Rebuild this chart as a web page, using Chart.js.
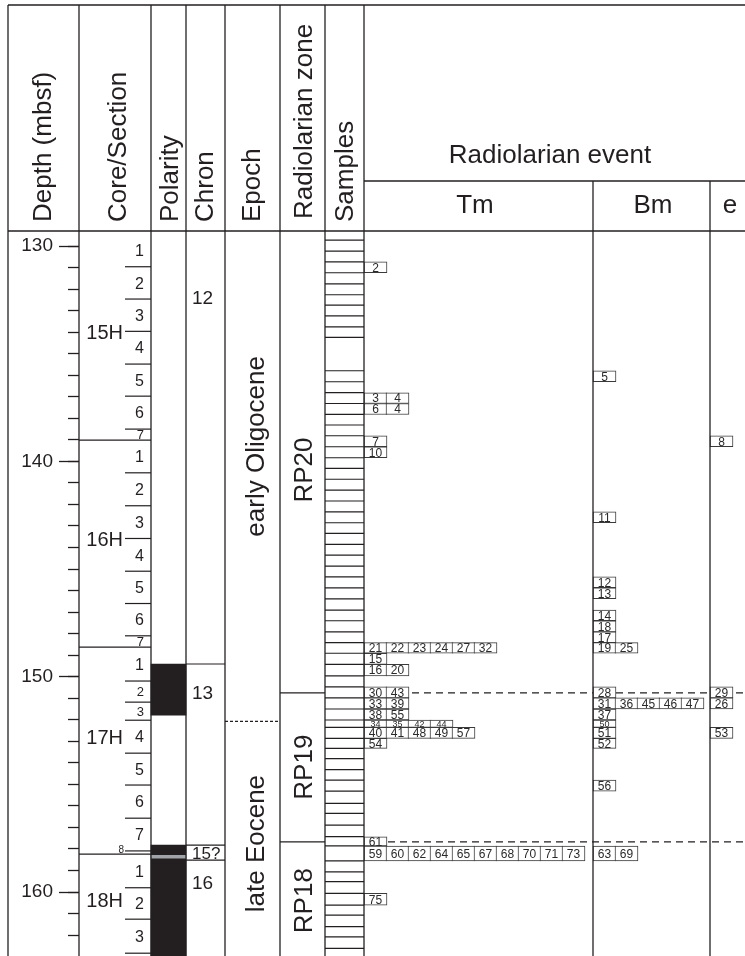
<!DOCTYPE html>
<html><head><meta charset="utf-8">
<script src="https://cdn.jsdelivr.net/npm/chart.js@4.4.0/dist/chart.umd.min.js"></script>
<style>html,body{margin:0;padding:0;background:#fff;overflow:hidden}canvas{display:block}</style>
</head><body>
<canvas id="c" width="745" height="956"></canvas>
<script>
// ---------------- data ----------------
const depthMajorTicks = [130, 140, 150, 160];
const depthMinorTicks = [130,131,132,133,134,135,136,137,138,139,140,141,142,143,144,145,146,147,148,149,150,151,152,153,154,155,156,157,158,159,160,161,162];

const coreNames = ['15H', '16H', '17H', '18H'];
const coreLabelDepths = [133.96, 143.58, 152.79, 160.35];
const sections15H = [129.46, 130.96, 132.46, 133.96, 135.48, 136.97, 138.50, 139.01];
const sections16H = [139.01, 140.53, 142.06, 143.58, 145.10, 146.60, 148.10, 148.63];
const sections17H = [148.63, 150.20, 151.18, 152.02, 153.55, 155.03, 156.57, 158.09, 158.24];
const sections18H = [158.24, 159.80, 161.26, 162.84, 164.30];

const normalPolarityTops  = [149.41, 157.82];
const normalPolarityBases = [151.78, 163.50];
const polarityGreyTops  = [158.30];
const polarityGreyBases = [158.43];

const chronNames = ['12', '13', '15?', '16'];
const chronBoundaries = [149.41, 157.82, 158.52];
const chronLabelDepths = [132.37, 150.71, 158.17, 159.54];

const epochNames = ['early Oligocene', 'late Eocene'];
const epochBoundaries = [152.07];
const epochLabelDepths = [139.3, 157.75];

const zoneNames = ['RP20', 'RP19', 'RP18'];
const zoneBoundaries = [150.75, 157.67];
const zoneLabelDepths = [140.4, 154.2, 160.4];

const sampleDepths = [129.72,130.23,130.73,131.24,131.76,132.26,132.74,133.24,133.75,134.24,
  135.79,136.30,136.81,137.31,137.82,138.31,138.81,139.32,139.83,140.32,140.83,141.33,141.84,
  142.34,142.85,143.34,143.85,144.35,144.86,145.36,145.87,146.38,146.91,147.40,147.92,148.42,
  148.91,149.43,149.96,150.47,150.98,151.50,152.01,152.35,152.86,153.33,153.80,154.31,154.80,
  155.31,155.88,156.35,156.89,157.43,157.86,158.55,159.06,159.52,160.06,160.61,161.07,161.61,
  162.08,162.62];

// radiolarian events: [top depth, base depth, event numbers]
const tmEvents = [
  [130.73, 131.24, ['2']],
  [136.81, 137.31, ['3','4']],
  [137.31, 137.82, ['6','4']],
  [138.81, 139.32, ['7']],
  [139.32, 139.83, ['10']],
  [148.42, 148.91, ['21','22','23','24','27','32']],
  [148.91, 149.43, ['15']],
  [149.43, 149.96, ['16','20']],
  [150.47, 150.98, ['30','43']],
  [150.98, 151.50, ['33','39']],
  [151.50, 152.01, ['38','55']],
  [152.01, 152.35, ['34','35','42','44']],
  [152.35, 152.86, ['40','41','48','49','57']],
  [152.86, 153.33, ['54']],
  [157.43, 157.86, ['61']],
  [157.86, 158.55, ['59','60','62','64','65','67','68','70','71','73']],
  [160.06, 160.61, ['75']]
];
const bmEvents = [
  [135.79, 136.30, ['5']],
  [142.34, 142.85, ['11']],
  [145.36, 145.87, ['12']],
  [145.87, 146.38, ['13']],
  [146.91, 147.40, ['14']],
  [147.40, 147.92, ['18']],
  [147.92, 148.42, ['17']],
  [148.42, 148.91, ['19','25']],
  [150.47, 150.98, ['28']],
  [150.98, 151.50, ['31','36','45','46','47']],
  [151.50, 152.01, ['37']],
  [152.01, 152.35, ['50']],
  [152.35, 152.86, ['51']],
  [152.86, 153.33, ['52']],
  [154.80, 155.31, ['56']],
  [157.86, 158.55, ['63','69']]
];
const eEvents = [
  [138.81, 139.32, ['8']],
  [150.47, 150.98, ['29']],
  [150.98, 151.50, ['26']],
  [152.35, 152.86, ['53']]
];
const eventBoundaryDepths = [150.75, 157.67];

// ---------------- layout / style ----------------
const FONT = '"Liberation Sans", Arial, Helvetica, sans-serif';
const INK = '#231f20';
const COL = { left: 8, depth: 79, core: 151, pol: 186, chron: 225, epoch: 280, zone: 325, samp: 364, tm: 593, bm: 710, e: 770 };
const HEADER_TOP = 5, HEADER_BOTTOM = 231, SUBHEAD = 181;
const BOX_W = 22;

const allSections = [sections15H, sections16H, sections17H, sections18H];
const sectionLines = [];
const coreLines = [];
allSections.forEach((s, ci) => {
  s.slice(1, -1).forEach(d => sectionLines.push(d));
  if (ci > 0) coreLines.push(s[0]);
});

function eventBars(rows, left) {
  const out = [];
  rows.forEach(([top, base, ids]) => ids.forEach((id, i) =>
    out.push({ x: left + BOX_W * i + (BOX_W + 1) / 2, y: [top, base], label: id })));
  return out;
}
function hLine(depths, x0, x1) {
  return depths.map(d => ({ x: (x0 + x1) / 2, y: d }));
}
function dashSegs(depths, x0, x1) {
  const out = [];
  depths.forEach(d => { out.push({ x: x0, y: d }, { x: x1, y: d }, { x: NaN, y: null }); });
  return out;
}

const datasets = [
  { type: 'scatter', data: hLine(sampleDepths, COL.zone, COL.samp), pointStyle: 'line',
    pointRadius: (COL.samp - COL.zone) / 2, pointHoverRadius: (COL.samp - COL.zone) / 2,
    borderColor: INK, borderWidth: 1.2, order: 5 },
  { type: 'scatter', data: hLine(sectionLines, 125, COL.core), pointStyle: 'line',
    pointRadius: 13, pointHoverRadius: 13, borderColor: INK, borderWidth: 1.2, order: 5 },
  { type: 'scatter', data: hLine(coreLines, COL.depth, COL.core), pointStyle: 'line',
    pointRadius: (COL.core - COL.depth) / 2, pointHoverRadius: (COL.core - COL.depth) / 2,
    borderColor: INK, borderWidth: 1.2, order: 5 },
  { type: 'scatter', data: hLine(chronBoundaries, COL.pol, COL.chron), pointStyle: 'line',
    pointRadius: (COL.chron - COL.pol) / 2, pointHoverRadius: (COL.chron - COL.pol) / 2,
    borderColor: INK, borderWidth: 1.2, order: 5 },
  { type: 'scatter', data: hLine(zoneBoundaries, COL.epoch, COL.zone), pointStyle: 'line',
    pointRadius: (COL.zone - COL.epoch) / 2, pointHoverRadius: (COL.zone - COL.epoch) / 2,
    borderColor: INK, borderWidth: 1.2, order: 5 },
  { type: 'line', data: dashSegs(epochBoundaries, COL.chron, COL.epoch), borderColor: INK,
    borderWidth: 1.2, borderDash: [3, 2], pointRadius: 0, spanGaps: false, order: 6 },
  { type: 'line', data: dashSegs(eventBoundaryDepths, COL.samp, COL.e), borderColor: INK,
    borderWidth: 1.2, borderDash: [7, 5], pointRadius: 0, spanGaps: false, order: 6 },
  { type: 'bar', data: normalPolarityTops.map((t, i) => ({ x: (COL.core + COL.pol) / 2, y: [t, normalPolarityBases[i]] })),
    backgroundColor: INK, borderWidth: 0, barThickness: COL.pol - COL.core, grouped: false, order: 4 },
  { type: 'bar', data: polarityGreyTops.map((t, i) => ({ x: (COL.core + COL.pol) / 2, y: [t, polarityGreyBases[i]] })),
    backgroundColor: '#a0a4a8', borderWidth: 0, barThickness: COL.pol - COL.core, grouped: false, order: 3 },
  { type: 'bar', eventBox: true, data: eventBars(tmEvents, COL.samp), backgroundColor: '#fff', borderColor: '#3a3a3a',
    borderWidth: 1, borderSkipped: false, barThickness: BOX_W + 1, grouped: false, order: 1 },
  { type: 'bar', eventBox: true, data: eventBars(bmEvents, COL.tm), backgroundColor: '#fff', borderColor: '#3a3a3a',
    borderWidth: 1, borderSkipped: false, barThickness: BOX_W + 1, grouped: false, order: 1 },
  { type: 'bar', eventBox: true, data: eventBars(eEvents, COL.bm), backgroundColor: '#fff', borderColor: '#3a3a3a',
    borderWidth: 1, borderSkipped: false, barThickness: BOX_W + 1, grouped: false, order: 1 }
];

const stratPlugin = {
  id: 'strat',
  beforeDraw(chart) {
    const { ctx } = chart;
    ctx.save(); ctx.fillStyle = '#fff'; ctx.fillRect(0, 0, chart.width, chart.height); ctx.restore();
  },
  afterDraw(chart) {
    const { ctx } = chart;
    const xs = chart.scales.x, ys = chart.scales.y;
    const px = v => xs.getPixelForValue(v);
    const py = d => ys.getPixelForValue(d);
    const H = chart.height;
    ctx.save();
    ctx.strokeStyle = INK; ctx.fillStyle = INK; ctx.lineWidth = 1.3;
    const line = (x0, y0, x1, y1) => { ctx.beginPath(); ctx.moveTo(x0, y0); ctx.lineTo(x1, y1); ctx.stroke(); };
    line(px(COL.left), HEADER_TOP, chart.width + 5, HEADER_TOP);
    line(px(COL.left), HEADER_BOTTOM, chart.width + 5, HEADER_BOTTOM);
    line(px(COL.samp), SUBHEAD, chart.width + 5, SUBHEAD);
    [COL.left, COL.depth, COL.core, COL.pol, COL.chron, COL.epoch, COL.zone, COL.samp].forEach(c => line(px(c), HEADER_TOP, px(c), H + 2));
    [COL.tm, COL.bm].forEach(c => line(px(c), SUBHEAD, px(c), H + 2));

    const text = (t, x, yMid, size, align) => {
      ctx.font = size + 'px ' + FONT; ctx.textAlign = align || 'left'; ctx.textBaseline = 'alphabetic';
      ctx.fillText(t, x, yMid + size * 0.358);
    };
    const vtext = (t, xBase, y, size, align) => {
      ctx.save(); ctx.translate(xBase, y); ctx.rotate(-Math.PI / 2);
      ctx.font = size + 'px ' + FONT; ctx.textAlign = align || 'left'; ctx.textBaseline = 'alphabetic';
      ctx.fillText(t, 0, 0); ctx.restore();
    };
    vtext('Depth (mbsf)', 51, 222, 26);
    vtext('Core/Section', 126, 222, 26);
    vtext('Polarity', 178, 222, 26);
    vtext('Chron', 213, 222, 26);
    vtext('Epoch', 260, 222, 26);
    vtext('Radiolarian zone', 312, 219, 26);
    vtext('Samples', 353, 222, 26);
    ctx.font = '26px ' + FONT; ctx.textAlign = 'center'; ctx.textBaseline = 'alphabetic';
    ctx.fillText('Radiolarian event', 550, 163);
    ctx.fillText('Tm', 475, 213);
    ctx.fillText('Bm', 653, 213);
    ctx.fillText('e', 730, 213);

    ctx.save();
    ctx.beginPath(); ctx.rect(0, chart.chartArea.top, chart.width, chart.chartArea.bottom - chart.chartArea.top); ctx.clip();
    allSections.forEach(s => {
      for (let i = 0; i < s.length - 1; i++) {
        const th = s[i + 1] - s[i];
        const mid = py((s[i] + s[i + 1]) / 2);
        if (th < 0.3) {
          text(String(i + 1), 124, py(s[i]) - 2, 10, 'right');
        } else {
          text(String(i + 1), 144, mid, th < 1.2 ? 13 : 16, 'right');
        }
      }
    });
    coreNames.forEach((n, i) => text(n, 123, py(coreLabelDepths[i]), 20, 'right'));
    chronNames.forEach((n, i) => text(n, 192, py(chronLabelDepths[i]), n.length > 2 ? 17 : 19, 'left'));
    epochNames.forEach((n, i) => vtext(n, 264, py(epochLabelDepths[i]), 26, 'center'));
    zoneNames.forEach((n, i) => vtext(n, 312, py(zoneLabelDepths[i]), 26, 'center'));
    chart.data.datasets.forEach((ds, di) => {
      if (!ds.eventBox) return;
      const meta = chart.getDatasetMeta(di);
      meta.data.forEach((el, j) => {
        const h = Math.abs(el.base - el.y);
        const size = h < 9 ? 9 : 12;
        ctx.fillStyle = '#2a2a2a';
        text(ds.data[j].label, el.x, (el.y + el.base) / 2, size, 'center');
      });
    });
    ctx.restore();
    ctx.restore();
  }
};

const noPad = s => { s.paddingTop = 0; s.paddingBottom = 0; s.paddingLeft = 0; s.paddingRight = 0; };

new Chart(document.getElementById('c'), {
  type: 'bar',
  data: { datasets },
  options: {
    responsive: false, animation: false, devicePixelRatio: 1, events: [],
    layout: { autoPadding: false, padding: { left: COL.left, top: HEADER_BOTTOM, right: 0, bottom: 0 } },
    plugins: { legend: { display: false }, tooltip: { enabled: false } },
    scales: {
      x: { type: 'linear', min: COL.depth, max: 745, display: false, offset: false },
      y: { type: 'linear', position: 'left', reverse: true, min: 129.3, max: 162.97, weight: 1,
        afterBuildTicks: s => { s.ticks = depthMajorTicks.map(v => ({ value: v })); },
        afterFit: s => { s.width = COL.depth - COL.left; noPad(s); },
        grid: { drawOnChartArea: false, drawTicks: true, tickLength: 20, tickWidth: 1.3, tickColor: INK },
        border: { display: false },
        ticks: { padding: 6, color: INK, font: { family: FONT, size: 19 }, callback: v => String(v) } },
      yMinor: { type: 'linear', position: 'left', reverse: true, min: 129.3, max: 162.97, weight: 0,
        afterBuildTicks: s => { s.ticks = depthMinorTicks.map(v => ({ value: v })); },
        afterFit: s => { s.width = 0; noPad(s); },
        grid: { drawOnChartArea: false, drawTicks: true, tickLength: 11, tickWidth: 1.3, tickColor: INK },
        border: { display: false },
        ticks: { display: false } }
    }
  },
  plugins: [stratPlugin]
});
</script>
</body></html>
